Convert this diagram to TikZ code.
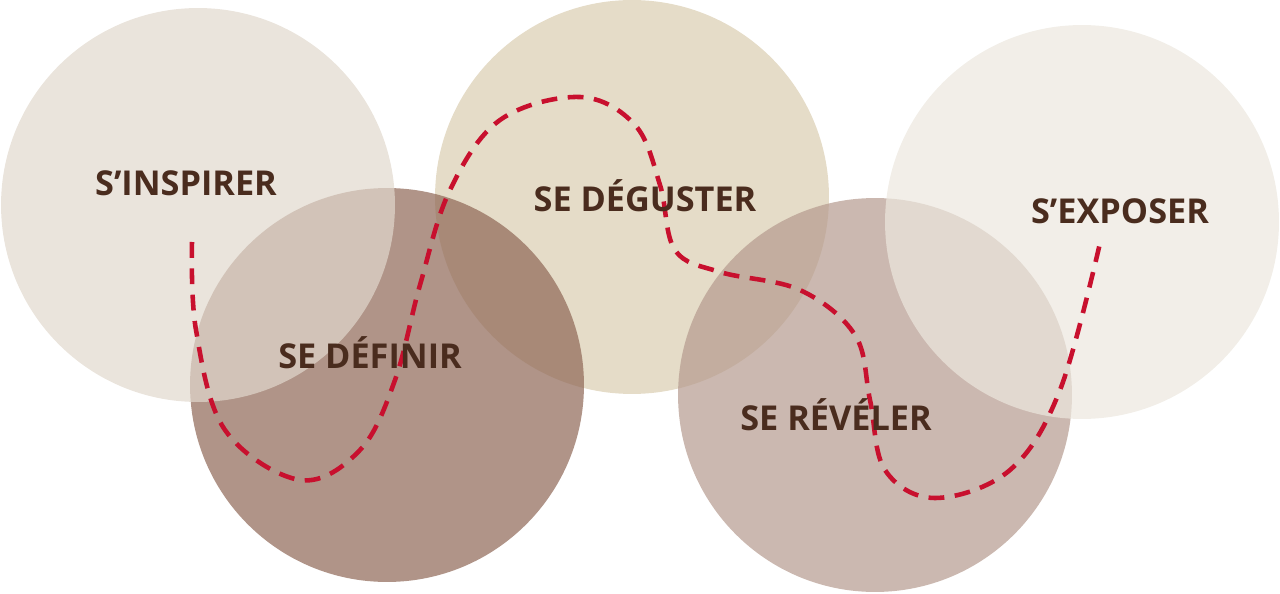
\documentclass[tikz,border=0pt]{standalone}
\usepackage{fontspec}
\setmainfont{Open Sans}
\usetikzlibrary{positioning}
\definecolor{cInspirer}{RGB}{225,216,205}
\definecolor{cDefinir}{RGB}{142,102,85}
\definecolor{cDeguster}{RGB}{218,205,176}
\definecolor{cReveler}{RGB}{181,154,142}
\definecolor{cExposer}{RGB}{236,231,222}
\definecolor{txtbrown}{RGB}{74,44,30}
\definecolor{pathred}{RGB}{200,16,46}
\tikzset{
  disc/.style={circle, minimum size=7.88cm, inner sep=0pt, fill opacity=0.7},
  label/.style={font=\bfseries\fontsize{19.5}{22}\selectfont, text=txtbrown},
  trail/.style={pathred, line width=2.6pt, dash pattern=on 9pt off 6pt}
}
\begin{document}
\begin{tikzpicture}[x=0.02cm,y=-0.02cm]
		\useasboundingbox (0,0) rectangle (1280,594);
		\node[disc, fill=cDeguster] (deg) at (632,197) {};
		\node[disc, fill=cDefinir] (def) at (387,385) {};
		\node[disc, fill=cReveler] (rev) at (875,395) {};
		\node[disc, fill=cExposer] (exp) at (1082,222) {};
		\node[disc, fill=cInspirer] (ins) at (198,205) {};
		
		\draw[trail] plot[smooth, tension=0.6] coordinates {(192,242) (196,330) (225,430) (300,480) (360,450) (395,380) (420,285) (450,190) (500,120) (580,97) (635,125) (660,185) (675,250) (720,272) (800,290) (855,335) (870,400) (885,470) (935,498) (1010,470) (1060,390) (1100,243)};
		
		\node[label] (tIns) at (186,183) {S’INSPIRER};
		\node[label] (tDef) at (370,353) {SE DÉFINIR};
		\node[label] (tDeg) at (645,196) {SE DÉGUSTER};
		\node[label] (tRev) at (836,415) {SE RÉVÉLER};
		\node[label] (tExp) at (1120,211) {S’EXPOSER};
	\end{tikzpicture}
\end{document}
